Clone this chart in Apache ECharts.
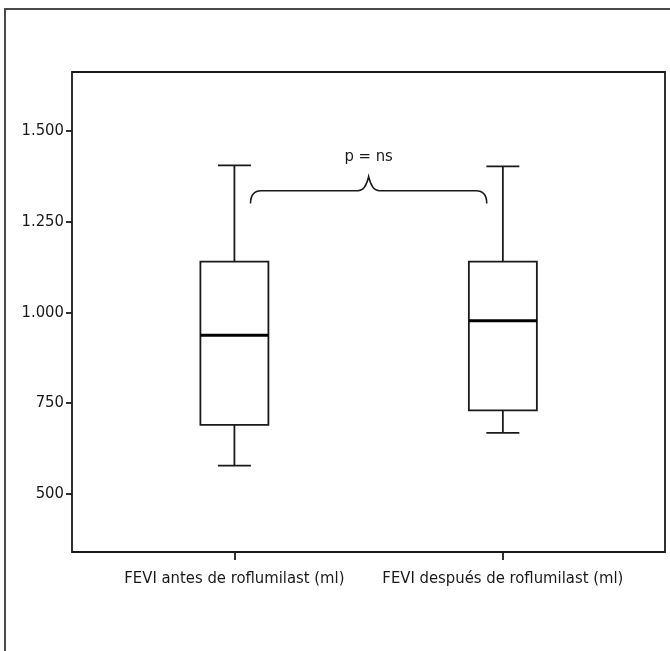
<!DOCTYPE html>
<html>
<head>
<meta charset="utf-8">
<script src="https://cdn.jsdelivr.net/npm/echarts@6/dist/echarts.min.js"></script>
<style>
  html, body { margin: 0; padding: 0; background: #fff; overflow: hidden; }
  #wrap { position: relative; width: 670px; height: 651px; }
  #frame { position: absolute; left: 4px; top: 8px; width: 720px; height: 720px;
           border-left: 2px solid #4a4a4a; border-top: 2px solid #4a4a4a; box-sizing: border-box; }
  #chart { position: absolute; left: 0; top: 0; width: 670px; height: 651px; }
</style>
</head>
<body>
<div id="wrap">
  <div id="frame"></div>
  <div id="chart"></div>
</div>
<script>
// ---- data ----
const categories = ['FEVI antes de roflumilast (ml)', 'FEVI después de roflumilast (ml)'];
const categoryPos = [1, 2];
const whiskerLow = [578, 668];
const q1 = [690, 730];
const median = [937, 977];
const q3 = [1140, 1140];
const whiskerHigh = [1405, 1402];
const yTicks = [500, 750, 1000, 1250, 1500];

// annotation (brace + p value) in data units
const braceX = [1.06, 1.10, 1.46, 1.50, 1.54, 1.90, 1.94];
const braceYEnd = 1300;
const braceYMid = 1335;
const braceYPeak = 1374;
const pLabel = 'p = ns';
const pLabelY = 1430;

const FONT = '"DejaVu Sans Condensed", "Liberation Sans Narrow", sans-serif';
const INK = '#1a1a1a';
const LW = 1.8;

const boxData = categoryPos.map((x, i) => [x, whiskerLow[i], q1[i], median[i], q3[i], whiskerHigh[i]]);

function fmt(v) {
  return String(v).replace(/\B(?=(\d{3})+(?!\d))/g, '.');
}

const chart = echarts.init(document.getElementById('chart'), null, { renderer: 'canvas' });

const option = {
  animation: false,
  backgroundColor: 'transparent',
  grid: {
    left: 72, right: 5, top: 72, bottom: 99,
    show: true, borderColor: INK, borderWidth: LW, backgroundColor: 'transparent'
  },
  xAxis: {
    type: 'value',
    min: 0.395, max: 2.604,
    splitLine: { show: false },
    axisLine: { show: false },
    axisTick: { show: true, length: 8, lineStyle: { color: INK, width: LW }, customValues: categoryPos },
    axisLabel: {
      show: true, customValues: categoryPos, margin: 18,
      fontFamily: FONT, fontSize: 16.5, color: '#1a1a1a',
      formatter: function (v) { const i = categoryPos.indexOf(Math.round(v)); return i >= 0 ? categories[i] : ''; }
    }
  },
  yAxis: {
    type: 'value',
    min: 340, max: 1662,
    splitLine: { show: false },
    axisLine: { show: false },
    axisTick: { show: true, length: 6, lineStyle: { color: INK, width: LW }, customValues: yTicks },
    axisLabel: {
      show: true, customValues: yTicks, margin: 8,
      fontFamily: FONT, fontSize: 16.5, color: '#1a1a1a',
      formatter: function (v) { return fmt(v); }
    }
  },
  series: [
    {
      type: 'custom',
      data: boxData,
      encode: { x: 0, y: [1, 2, 3, 4, 5] },
      renderItem: function (params, api) {
        const x = api.value(0);
        const pLow = api.coord([x, api.value(1)]);
        const pQ1 = api.coord([x, api.value(2)]);
        const pMed = api.coord([x, api.value(3)]);
        const pQ3 = api.coord([x, api.value(4)]);
        const pHigh = api.coord([x, api.value(5)]);
        const half = 34, capHalf = 16.5;
        const cx = pMed[0];
        const st = { stroke: INK, lineWidth: LW, fill: null };
        return {
          type: 'group',
          children: [
            { type: 'line', shape: { x1: cx, y1: pHigh[1], x2: cx, y2: pQ3[1] }, style: st },
            { type: 'line', shape: { x1: cx, y1: pQ1[1], x2: cx, y2: pLow[1] }, style: st },
            { type: 'line', shape: { x1: cx - capHalf, y1: pHigh[1], x2: cx + capHalf, y2: pHigh[1] }, style: st },
            { type: 'line', shape: { x1: cx - capHalf, y1: pLow[1], x2: cx + capHalf, y2: pLow[1] }, style: st },
            { type: 'rect', shape: { x: cx - half, y: pQ3[1], width: 2 * half, height: pQ1[1] - pQ3[1] },
              style: { stroke: INK, lineWidth: LW, fill: '#fff' } },
            { type: 'line', shape: { x1: cx - half, y1: pMed[1], x2: cx + half, y2: pMed[1] },
              style: { stroke: '#000', lineWidth: 3 } }
          ]
        };
      }
    },
    {
      type: 'custom',
      data: [[braceX[3], pLabelY]],
      encode: { x: 0, y: 1 },
      renderItem: function (params, api) {
        const P = (xv, yv) => api.coord([xv, yv]);
        const a = P(braceX[0], braceYEnd);
        const b = P(braceX[0], braceYMid);
        const c = P(braceX[1], braceYMid);
        const d = P(braceX[2], braceYMid);
        const e = P(braceX[3] - 0.012, braceYMid);
        const f = P(braceX[3], braceYPeak);
        const g = P(braceX[3] + 0.012, braceYMid);
        const h = P(braceX[4], braceYMid);
        const i = P(braceX[5], braceYMid);
        const j = P(braceX[6], braceYMid);
        const k = P(braceX[6], braceYEnd);
        const path = 'M' + a + ' Q' + b + ' ' + c + ' L' + d +
          ' Q' + e + ' ' + f + ' Q' + g + ' ' + h + ' L' + i + ' Q' + j + ' ' + k;
        const t = P(braceX[3], pLabelY);
        return {
          type: 'group',
          children: [
            { type: 'path', shape: { pathData: path }, style: { stroke: INK, lineWidth: 1.6, fill: null } },
            { type: 'text', x: t[0], y: t[1],
              style: { text: pLabel, fontFamily: FONT, fontSize: 16.5, fill: '#1a1a1a', align: 'center', verticalAlign: 'middle' } }
          ]
        };
      }
    }
  ]
};

chart.setOption(option);
</script>
</body>
</html>
